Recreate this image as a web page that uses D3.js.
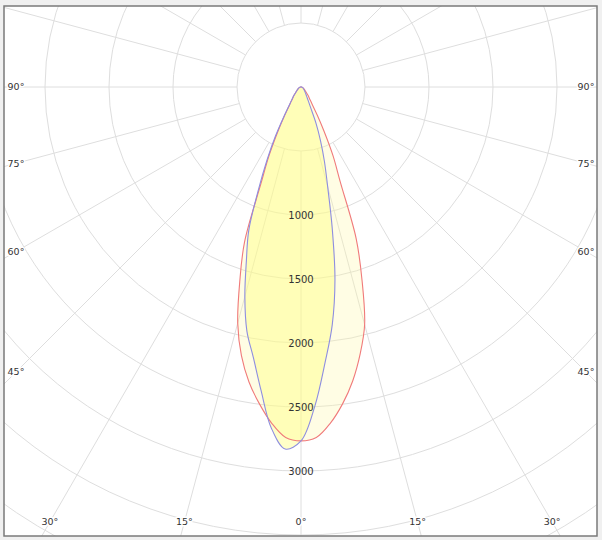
<!DOCTYPE html>
<html>
<head>
<meta charset="utf-8">
<script src="https://cdn.jsdelivr.net/npm/d3@7"></script>
<style>
  body { margin: 0; background: #f0f0f0; }
  svg { display: block; }
  text { font-family: "DejaVu Sans", Verdana, sans-serif; fill: #333; }
</style>
</head>
<body>
<svg id="chart" width="602" height="540"></svg>
<script>
// gamma angles (deg from nadir) and luminous intensity (cd)
var angles     = [0, 2.5, 5, 7.5, 10, 12.5, 15, 17.5, 20, 22.5, 25, 27.5, 30, 35, 40, 45, 50, 60, 70, 80, 90];
var redLeft    = [2765, 2741, 2636, 2495, 2340, 2150, 1910, 1590, 1290, 820, 590, 390, 255, 125, 85, 55, 40, 25, 15, 8, 5];
var redRight   = [2765, 2741, 2636, 2495, 2330, 2136, 1921, 1587, 1260, 800, 590, 390, 255, 125, 85, 55, 40, 25, 15, 8, 5];
var blueLeft   = [2765, 2831, 2672, 2391, 2145, 1953, 1695, 1418, 1194, 870, 625, 430, 270, 130, 85, 55, 40, 25, 15, 8, 5];
var blueRight  = [2765, 2493, 2160, 1872, 1528, 1125, 804, 608, 445, 307, 180, 125, 95, 65, 48, 38, 30, 20, 12, 7, 5];

var ringValues  = [500, 1000, 1500, 2000, 2500, 3000, 3500, 4000, 4500];
var ringLabels  = [1000, 1500, 2000, 2500, 3000];
var sideLabels  = [90, 75, 60, 45];
var bottomLabels = [30, 15, 0];

var svg = d3.select("#chart");
var frame = {x: 4, y: 6, w: 593, h: 530};
var cx = 301, cy = 87;

var r = d3.scaleLinear().domain([0, 500]).range([0, 64]);
var rad = function(deg) { return deg * Math.PI / 180; };

svg.append("defs").append("clipPath").attr("id", "clip")
  .append("rect")
  .attr("x", frame.x).attr("y", frame.y)
  .attr("width", frame.w).attr("height", frame.h);

svg.append("rect")
  .attr("x", frame.x).attr("y", frame.y)
  .attr("width", frame.w).attr("height", frame.h)
  .attr("fill", "#fff");

var plot = svg.append("g").attr("clip-path", "url(#clip)");
var g = plot.append("g").attr("transform", "translate(" + cx + "," + cy + ")");

// rings
g.selectAll("circle.ring")
  .data(ringValues)
  .enter()
  .append("circle")
  .attr("class", "ring")
  .attr("r", d => r(d))
  .attr("fill", "none")
  .attr("stroke", "#dedede")
  .attr("stroke-width", 1);

// spokes every 15 degrees, starting at the 500 ring
g.selectAll("line.spoke")
  .data(d3.range(0, 360, 15))
  .enter()
  .append("line")
  .attr("class", "spoke")
  .attr("x1", d => r(500) * Math.sin(rad(d)))
  .attr("y1", d => r(500) * Math.cos(rad(d)))
  .attr("x2", d => r(5000) * Math.sin(rad(d)))
  .attr("y2", d => r(5000) * Math.cos(rad(d)))
  .attr("stroke", "#dedede")
  .attr("stroke-width", 1);

// build a closed curve: left half from 90 to 0, then right half from 0 to 90
var buildCurve = function(left, right) {
  var pts = [];
  for (var i = angles.length - 1; i >= 0; i--) {
    pts.push([Math.PI + rad(angles[i]), r(left[i])]);
  }
  for (var j = 1; j < angles.length; j++) {
    pts.push([Math.PI - rad(angles[j]), r(right[j])]);
  }
  return pts;
};

var line = d3.lineRadial()
  .angle(d => d[0])
  .radius(d => d[1])
  .curve(d3.curveCatmullRomClosed.alpha(0.5));

var curves = [
  {name: "C0-C180", pts: buildCurve(redLeft, redRight), fill: "rgba(255,250,165,0.3)", stroke: "#f07a7a"},
  {name: "C90-C270", pts: buildCurve(blueLeft, blueRight), fill: "rgba(255,255,125,0.42)", stroke: "#8e8ee0"}
];

g.selectAll("path.fill")
  .data(curves)
  .enter()
  .append("path")
  .attr("class", "fill")
  .attr("d", d => line(d.pts))
  .attr("fill", d => d.fill)
  .attr("stroke", "none");

g.selectAll("path.outline")
  .data(curves)
  .enter()
  .append("path")
  .attr("class", "outline")
  .attr("d", d => line(d.pts))
  .attr("fill", "none")
  .attr("stroke", d => d.stroke)
  .attr("stroke-width", 1.1);

// ring value labels on the 0 deg axis
g.selectAll("text.ringlabel")
  .data(ringLabels)
  .enter()
  .append("text")
  .attr("class", "ringlabel")
  .attr("x", 0)
  .attr("y", d => r(d))
  .attr("dy", "0.35em")
  .attr("text-anchor", "middle")
  .style("font-size", "10px")
  .text(d => d);

// angle labels on the left and right edges
var edgeX = 285;
sideLabels.forEach(function(a) {
  var y = a === 90 ? 0 : edgeX / Math.tan(rad(a));
  [-1, 1].forEach(function(s) {
    g.append("text")
      .attr("x", s * edgeX)
      .attr("y", y)
      .attr("dy", "0.35em")
      .attr("text-anchor", "middle")
      .style("font-size", "9.5px")
      .style("paint-order", "stroke")
      .style("stroke", "#fff")
      .style("stroke-width", "3px")
      .text(a + "°");
  });
});

// angle labels along the bottom
var bottomY = 522 - cy;
bottomLabels.forEach(function(a) {
  var signs = a === 0 ? [1] : [-1, 1];
  signs.forEach(function(s) {
    g.append("text")
      .attr("x", s * bottomY * Math.tan(rad(a)))
      .attr("y", bottomY)
      .attr("dy", "0.35em")
      .attr("text-anchor", "middle")
      .style("font-size", "9.5px")
      .style("paint-order", "stroke")
      .style("stroke", "#fff")
      .style("stroke-width", "3px")
      .text(a + "°");
  });
});

// frame
svg.append("rect")
  .attr("x", frame.x).attr("y", frame.y)
  .attr("width", frame.w).attr("height", frame.h)
  .attr("fill", "none")
  .attr("stroke", "#7a7a7a")
  .attr("stroke-width", 1.5);
</script>
</body>
</html>
